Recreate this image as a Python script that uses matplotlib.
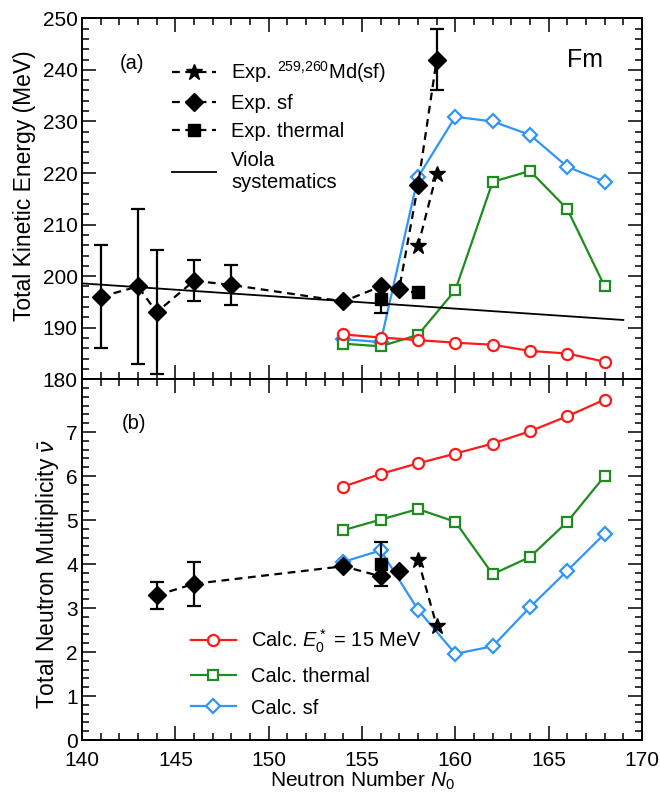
import matplotlib
matplotlib.use("Agg")
import matplotlib.pyplot as plt
from matplotlib.ticker import MultipleLocator, FixedLocator

plt.rcParams['font.family'] = ['Liberation Sans', 'DejaVu Sans']
plt.rcParams['mathtext.fontset'] = 'custom'
plt.rcParams['mathtext.rm'] = 'Liberation Sans'
plt.rcParams['mathtext.it'] = 'Liberation Sans:italic'
plt.rcParams['mathtext.bf'] = 'Liberation Sans:bold'

# ---------------- data ----------------
calc_N = [154, 156, 158, 160, 162, 164, 166, 168]
tke_calc_e15 = [188.7, 188.1, 187.6, 187.1, 186.7, 185.5, 185.0, 183.4]
tke_calc_thermal = [186.9, 186.4, 188.6, 197.3, 218.3, 220.4, 213.0, 198.0]
tke_calc_sf = [187.8, 187.2, 219.2, 230.9, 230.0, 227.4, 221.2, 218.3]

nu_calc_e15 = [5.76, 6.05, 6.29, 6.51, 6.74, 7.02, 7.36, 7.74]
nu_calc_thermal = [4.77, 5.01, 5.25, 4.96, 3.77, 4.16, 4.96, 6.00]
nu_calc_sf = [4.05, 4.31, 2.96, 1.96, 2.13, 3.02, 3.85, 4.69]

tke_sf_N = [141, 143, 144, 146, 148, 154, 156, 157, 158, 159]
tke_sf = [196.0, 198.0, 193.0, 199.1, 198.3, 195.1, 198.0, 197.6, 217.6, 242.0]
tke_sf_err = [10.0, 15.0, 12.0, 4.0, 3.9, 0.0, 0.0, 0.0, 0.0, 6.0]

tke_th_N = [156, 158]
tke_th = [195.5, 197.0]
tke_th_err = [2.7, 0.0]

tke_md_N = [158, 159]
tke_md = [205.8, 219.9]

viola_N = [140, 169]
viola_tke = [198.6, 191.5]

nu_sf_N = [144, 146, 154, 156, 157]
nu_sf = [3.29, 3.55, 3.95, 3.72, 3.84]
nu_sf_err = [0.31, 0.50, 0.0, 0.0, 0.0]

nu_th_N = [156]
nu_th = [4.00]
nu_th_err = [0.50]

nu_md_N = [158, 159]
nu_md = [4.10, 2.60]

nu_ticks = [0, 1, 2, 3, 4, 5, 6, 7]

# ---------------- style ----------------
RED = '#ff1a1a'
GREEN = '#1e8c1e'
BLUE = '#2f95fb'
FS_TICK = 15
FS_LEG = 14.5
FS_XLAB = 15
FS_YLAB = 16.5

fig = plt.figure(figsize=(6.6, 7.95), dpi=100)
L, R = 82 / 660, 642 / 660
ax1 = fig.add_axes([L, 1 - 379.3 / 795, R - L, (379.3 - 18.3) / 795])
ax2 = fig.add_axes([L, 1 - 740 / 795, R - L, (740 - 379.3) / 795])

dash = (0, (3.5, 2.5))


def calc_lines(ax, e15, th, sf):
    h3, = ax.plot(calc_N, sf, color=BLUE, lw=1.6, marker='D', ms=7.5,
                  mfc='white', mec=BLUE, mew=1.6, label='Calc. sf', zorder=3)
    h2, = ax.plot(calc_N, th, color=GREEN, lw=1.6, marker='s', ms=7.5,
                  mfc='white', mec=GREEN, mew=1.6, label='Calc. thermal', zorder=3)
    h1, = ax.plot(calc_N, e15, color=RED, lw=1.6, marker='o', ms=8,
                  mfc='white', mec=RED, mew=1.6,
                  label='Calc. $E_0^*$ = 15 MeV', zorder=3)
    return h1, h2, h3


# ---------------- top panel ----------------
calc_lines(ax1, tke_calc_e15, tke_calc_thermal, tke_calc_sf)
hv, = ax1.plot(viola_N, viola_tke, color='black', lw=1.3, zorder=4,
               label='Viola\nsystematics')
ax1.errorbar(tke_sf_N, tke_sf, yerr=tke_sf_err, color='black', ls=dash, lw=1.6,
             marker='D', ms=9.5, elinewidth=1.6, capsize=5, capthick=1.6, zorder=5)
hsf, = ax1.plot([], [], color='black', ls=dash, lw=1.6, marker='D', ms=9.5,
                label='Exp. sf')
ax1.errorbar(tke_th_N, tke_th, yerr=tke_th_err, color='black', ls='none',
             marker='s', ms=9, elinewidth=1.6, capsize=5, capthick=1.6, zorder=5)
hth, = ax1.plot([], [], color='black', ls=dash, lw=1.6, marker='s', ms=9,
                label='Exp. thermal')
hmd, = ax1.plot(tke_md_N, tke_md, color='black', ls=dash, lw=1.6, marker='*',
                ms=12, zorder=6, label='Exp. $^{259{,}260}$Md(sf)')

ax1.legend(handles=[hmd, hsf, hth, hv], loc='upper left',
           bbox_to_anchor=(0.135, 0.925), frameon=False, fontsize=FS_LEG,
           handlelength=2.2, handletextpad=0.75, labelspacing=0.45,
           borderpad=0.2)

ax1.set_xlim(140, 170)
ax1.set_ylim(180, 250)
ax1.set_ylabel('Total Kinetic Energy (MeV)', fontsize=FS_YLAB)
ax1.yaxis.set_label_coords(-0.083, 0.535)
ax1.yaxis.set_major_locator(MultipleLocator(10))
ax1.yaxis.set_minor_locator(MultipleLocator(2))
ax1.text(0.089, 0.876, '(a)', transform=ax1.transAxes, fontsize=FS_LEG,
         ha='center', va='center')
ax1.text(0.898, 0.884, 'Fm', transform=ax1.transAxes, fontsize=18,
         ha='center', va='center')
ax1.tick_params(labelbottom=False)

# ---------------- bottom panel ----------------
h1, h2, h3 = calc_lines(ax2, nu_calc_e15, nu_calc_thermal, nu_calc_sf)
ax2.errorbar(nu_sf_N, nu_sf, yerr=nu_sf_err, color='black', ls=dash, lw=1.6,
             marker='D', ms=9.5, elinewidth=1.6, capsize=5, capthick=1.6, zorder=5)
ax2.errorbar(nu_th_N, nu_th, yerr=nu_th_err, color='black', ls='none',
             marker='s', ms=9, elinewidth=1.6, capsize=5, capthick=1.6, zorder=5)
ax2.plot(nu_md_N, nu_md, color='black', ls=dash, lw=1.6, marker='*',
         ms=12, zorder=6)

ax2.legend(handles=[h1, h2, h3], loc='upper left',
           bbox_to_anchor=(0.17, 0.352), frameon=False, fontsize=FS_LEG,
           handlelength=2.2, handletextpad=0.75, labelspacing=0.62,
           borderpad=0.2)

ax2.set_xlim(140, 170)
ax2.set_ylim(0, 8.2)
ax2.set_ylabel(r'Total Neutron Multiplicity $\bar{\nu}$', fontsize=FS_YLAB)
ax2.yaxis.set_label_coords(-0.038, 0.46)
ax2.set_xlabel('Neutron Number $N_0$', fontsize=FS_XLAB, labelpad=0)
ax2.yaxis.set_major_locator(FixedLocator(nu_ticks))
ax2.yaxis.set_minor_locator(MultipleLocator(0.2))
ax2.text(0.093, 0.878, '(b)', transform=ax2.transAxes, fontsize=FS_LEG,
         ha='center', va='center')

for ax in (ax1, ax2):
    ax.xaxis.set_major_locator(MultipleLocator(5))
    ax.xaxis.set_minor_locator(MultipleLocator(1))
    ax.tick_params(which='both', direction='in', top=True, right=True,
                   labelsize=FS_TICK)
    ax.tick_params(which='major', length=10, width=1.1)
    ax.tick_params(which='minor', length=5, width=1.1)
    ax.tick_params(axis='y', pad=3)
    ax.tick_params(axis='x', pad=8)
    for s in ax.spines.values():
        s.set_linewidth(1.4)

fig.savefig('out.png', dpi=100)
